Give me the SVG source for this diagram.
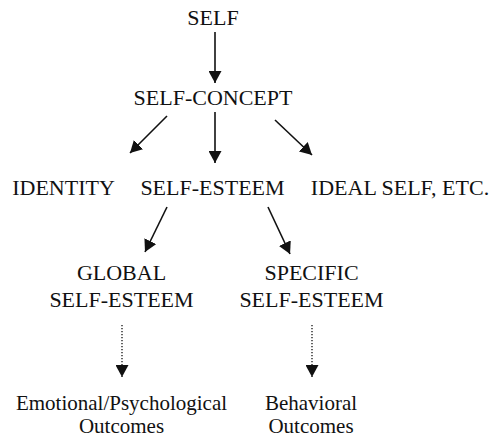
<svg xmlns="http://www.w3.org/2000/svg" width="493" height="438" viewBox="0 0 493 438">
<style>
text{font-family:'Liberation Serif','Times New Roman',serif;font-size:22px;fill:#111;text-anchor:middle}
.lc{font-size:21px}
.c{stroke:#111;stroke-width:1.6;fill:none}
.d{stroke:#111;stroke-width:1.3;fill:none;stroke-dasharray:1.2 1.8}
</style>
<defs>
<marker id="ah" viewBox="0 0 12 13" refX="12" refY="6.5" markerWidth="12" markerHeight="13" markerUnits="userSpaceOnUse" orient="auto">
<path d="M0,0 L12,6.5 L0,13 z" fill="#111"/>
</marker>
</defs>
<g id="self"><text x="213" y="25">SELF</text></g>
<g id="self-concept"><text x="213" y="105">SELF-CONCEPT</text></g>
<g id="identity"><text x="63.5" y="195">IDENTITY</text></g>
<g id="self-esteem"><text x="212.5" y="195">SELF-ESTEEM</text></g>
<g id="ideal-self"><text x="400" y="195">IDEAL SELF, ETC.</text></g>
<g id="global"><text x="121.5" y="280">GLOBAL</text><text x="121.5" y="307">SELF-ESTEEM</text></g>
<g id="specific"><text x="311.5" y="280">SPECIFIC</text><text x="311.5" y="307">SELF-ESTEEM</text></g>
<g id="emotional"><text class="lc" x="121.5" y="410">Emotional/Psychological</text><text class="lc" x="121.5" y="433">Outcomes</text></g>
<g id="behavioral"><text class="lc" x="311" y="410">Behavioral</text><text class="lc" x="311" y="433">Outcomes</text></g>
<g id="connectors">
<line class="c" x1="215" y1="32" x2="215" y2="83" marker-end="url(#ah)"/>
<line class="c" x1="167" y1="116" x2="130" y2="153" marker-end="url(#ah)"/>
<line class="c" x1="215" y1="112" x2="215" y2="163" marker-end="url(#ah)"/>
<line class="c" x1="275" y1="120" x2="312" y2="155" marker-end="url(#ah)"/>
<line class="c" x1="167" y1="207" x2="145" y2="252" marker-end="url(#ah)"/>
<line class="c" x1="268" y1="207" x2="290" y2="254" marker-end="url(#ah)"/>
<line class="d" x1="122" y1="325" x2="122" y2="377" marker-end="url(#ah)"/>
<line class="d" x1="312" y1="325" x2="312" y2="377" marker-end="url(#ah)"/>
</g>
</svg>
